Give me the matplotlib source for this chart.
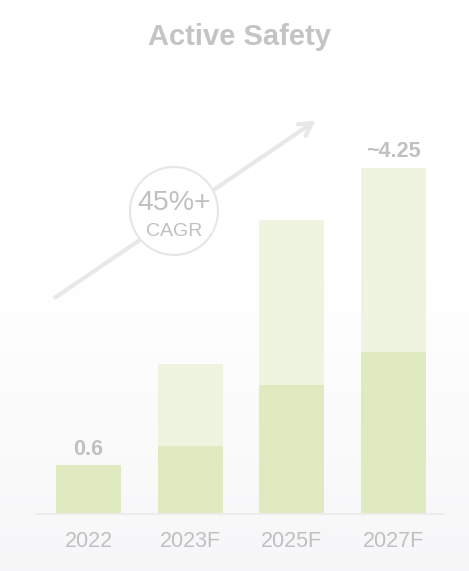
import numpy as np
import matplotlib
matplotlib.use("Agg")
import matplotlib.pyplot as plt
from matplotlib.patches import Circle

plt.rcParams['font.family'] = ['Liberation Sans', 'DejaVu Sans']

categories = ["2022", "2023F", "2025F", "2027F"]
base_values = [0.6, 0.84, 1.58, 1.99]
total_values = [0.6, 1.84, 3.61, 4.25]
value_labels = ["0.6", None, None, "~4.25"]
title = "Active Safety"
cagr_text = "45%+"
cagr_sub = "CAGR"

W, H = 469, 571
fig = plt.figure(figsize=(W / 100, H / 100), dpi=100)

# subtle background gradient
bg = fig.add_axes([0, 0, 1, 1], zorder=0)
grad = np.ones((H, 1, 3))
rows = np.arange(H)
t = np.clip((rows - 280) / (H - 280), 0, 1)[:, None]
col = np.array([1.0, 1.0, 1.0]) * (1 - t) + np.array([0.968, 0.968, 0.975]) * t
grad[:, 0, :] = col
bg.imshow(grad, aspect='auto', extent=[0, 1, 0, 1], origin='upper')
bg.set_axis_off()

left_px, right_px, base_px, top_px = 37, 443, 514, 100
ax = fig.add_axes([left_px / W, (H - base_px) / H, (right_px - left_px) / W,
                   (base_px - top_px) / H], zorder=1)
ax.patch.set_alpha(0)

x = np.arange(len(categories))
width = 0.64
dark = "#dfeac0"
light = "#eef4df"
upper = [t_ - b for t_, b in zip(total_values, base_values)]
ax.bar(x, base_values, width, color=dark, zorder=2)
ax.bar(x, upper, width, bottom=base_values, color=light, zorder=2)

for xi, tv, lab in zip(x, total_values, value_labels):
    if lab:
        ax.annotate(lab, (xi, tv), xytext=(0, 4), textcoords='offset points',
                    ha='center', va='bottom', fontsize=15.5, fontweight='bold',
                    color="#c0c0c0")

px_per_unit = 346 / 4.25
ax.set_ylim(0, (base_px - top_px) / px_per_unit)
ax.set_xlim(-0.507, 3.487)
ax.set_xticks(x)
ax.set_xticklabels(categories, fontsize=15.5, color="#c0c0c0")
ax.tick_params(axis='x', length=0, pad=12)
ax.set_yticks([])
for s in ['top', 'right', 'left']:
    ax.spines[s].set_visible(False)
ax.spines['bottom'].set_color("#ececec")
ax.spines['bottom'].set_linewidth(1.5)

# title
fig.text(239.5 / W, 1 - 37 / H, title, ha='center', va='center',
         fontsize=21, fontweight='bold', color="#c4c4c4")

# arrow
fig.patches.append(matplotlib.patches.FancyArrowPatch(
    (53 / W, 1 - 299 / H), (318 / W, 1 - 119 / H),
    transform=fig.transFigure, arrowstyle='->,head_length=9,head_width=5',
    color="#e8e8e8", linewidth=3, mutation_scale=1, zorder=3))

# circle
cx, cy, r = 174, 211, 44
circ_ax = fig.add_axes([0, 0, 1, 1], zorder=4)
circ_ax.set_xlim(0, W)
circ_ax.set_ylim(H, 0)
circ_ax.set_axis_off()
circ_ax.patch.set_alpha(0)
circ_ax.add_patch(Circle((cx, cy), r, facecolor='white', edgecolor="#e6e6e6",
                         linewidth=1.5))
circ_ax.text(cx, 203, cagr_text, ha='center', va='center', fontsize=20.5,
             color="#c0c0c0")
circ_ax.text(cx, 231, cagr_sub, ha='center', va='center', fontsize=14,
             color="#c0c0c0")

fig.savefig("out.png", dpi=100)
